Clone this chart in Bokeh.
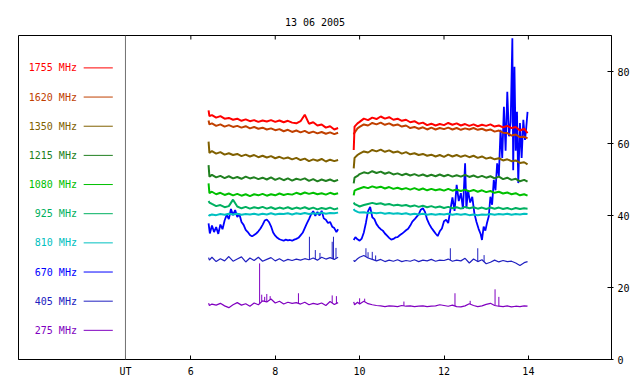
import math
import numpy as np
from bokeh.plotting import figure
from bokeh.models import Range1d, FixedTicker, Span, ColumnDataSource
from bokeh.core.properties import value
from bokeh.embed import file_html
from bokeh.resources import INLINE

# ---------------- chart content ----------------
title_text = "13 06 2005"
x_ticks = [6, 8, 10, 12, 14]
y_ticks = [0, 20, 40, 60, 80]
ut_hour = 4.45
ut_label = "UT"

freq_labels = ["1755 MHz", "1620 MHz", "1350 MHz", "1215 MHz", "1080 MHz",
               "925 MHz", "810 MHz", "670 MHz", "405 MHz", "275 MHz"]
freq_colors = ["#ff0000", "#c04000", "#806000", "#208020", "#00c000",
               "#00b060", "#00c0c0", "#0000ff", "#2020c0", "#8000c0"]

# time (UT hours) of the two observing segments
t1 = [6.42, 6.44, 6.5, 6.6, 6.7, 6.8, 6.9, 7.0, 7.1, 7.2, 7.3, 7.4, 7.5, 7.6, 7.7,
      7.8, 7.9, 8.0, 8.1, 8.2, 8.3, 8.4, 8.5, 8.6, 8.7, 8.8, 8.9, 9.0, 9.1, 9.2,
      9.3, 9.4, 9.49]
t2 = [9.86, 9.88, 9.95, 10.0, 10.1, 10.2, 10.3, 10.4, 10.5, 10.6, 10.7, 10.8, 10.9,
      11.0, 11.1, 11.2, 11.3, 11.4, 11.5, 11.6, 11.7, 11.8, 11.9, 12.0, 12.1, 12.2,
      12.3, 12.4, 12.5, 12.6, 12.7, 12.8, 12.9, 13.0, 13.1, 13.2, 13.3, 13.4, 13.5,
      13.6, 13.7, 13.8, 13.9, 13.98]

f1755_a = [69.2, 67.6, 67.9, 67.2, 67.6, 66.9, 67.1, 66.6, 66.9, 66.3, 66.7, 66.2,
           66.5, 66.0, 66.4, 66.1, 66.5, 66.0, 66.4, 65.9, 66.3, 65.8, 65.6, 66.2,
           68.0, 65.5, 65.9, 65.0, 65.3, 64.4, 64.8, 63.9, 64.3]
f1755_b = [58.2, 64.7, 65.6, 66.0, 66.9, 66.5, 67.2, 66.8, 67.5, 66.9, 67.3, 66.6,
           66.9, 66.3, 66.6, 65.9, 66.2, 65.5, 65.8, 65.1, 65.5, 65.0, 65.4, 65.1,
           65.7, 65.2, 65.6, 65.0, 65.4, 64.9, 65.3, 64.8, 65.2, 64.9, 65.3, 64.7,
           65.0, 64.5, 64.9, 64.3, 64.6, 63.6, 64.1, 62.9]

f1620_a = [66.4, 65.3, 65.6, 64.9, 65.3, 64.7, 65.1, 64.6, 64.9, 64.4, 64.8, 64.2,
           64.6, 64.1, 64.4, 63.9, 64.2, 63.7, 64.0, 63.4, 63.8, 63.2, 63.6, 63.1,
           63.5, 62.9, 63.3, 62.8, 63.2, 62.7, 63.1, 62.6, 63.0]
f1620_b = [62.5, 63.0, 64.2, 64.6, 65.3, 65.0, 65.7, 65.3, 65.8, 65.2, 65.6, 65.0,
           65.3, 64.7, 65.0, 64.3, 64.6, 64.1, 64.5, 63.9, 64.4, 63.9, 64.3, 64.0,
           64.4, 63.9, 64.3, 63.8, 64.2, 63.9, 64.3, 63.8, 64.1, 63.6, 63.9, 63.3,
           63.6, 63.0, 62.9, 62.2, 62.5, 61.8, 61.9, 61.4]

f1350_a = [60.5, 57.4, 57.9, 57.2, 57.6, 56.9, 57.3, 56.8, 57.1, 56.5, 56.9, 56.4,
           56.8, 56.2, 56.6, 56.1, 56.5, 55.9, 56.3, 55.8, 56.1, 55.6, 56.0, 55.4,
           55.8, 55.1, 55.6, 55.2, 55.7, 55.0, 55.5, 55.1, 55.4]
f1350_b = [53.1, 56.0, 56.8, 57.2, 57.8, 57.5, 58.2, 57.8, 58.3, 57.7, 58.1, 57.5,
           57.8, 57.2, 57.6, 57.0, 57.3, 56.8, 57.1, 56.6, 56.9, 56.4, 56.8, 56.3,
           56.9, 56.4, 56.8, 56.3, 56.7, 56.2, 56.6, 56.0, 56.4, 55.8, 56.1, 55.6,
           55.9, 55.3, 55.6, 55.1, 55.3, 54.6, 54.8, 54.2]

f1215_a = [54.0, 50.8, 51.3, 50.6, 51.0, 50.4, 50.9, 50.3, 50.7, 50.2, 50.8, 50.3,
           50.6, 50.1, 50.5, 50.0, 50.6, 49.9, 50.4, 49.8, 50.3, 49.7, 50.2, 49.9,
           50.3, 49.6, 50.1, 49.5, 50.0, 49.6, 50.0, 49.5, 49.9]
f1215_b = [48.9, 50.5, 51.0, 51.5, 52.0, 51.7, 52.3, 51.8, 52.2, 51.6, 52.0, 51.4,
           51.7, 51.2, 51.6, 51.1, 51.5, 51.0, 51.4, 50.9, 51.3, 50.9, 51.4, 50.9,
           51.3, 50.8, 51.2, 50.8, 51.3, 50.7, 51.1, 50.6, 51.0, 50.5, 50.9, 50.3,
           50.8, 50.1, 50.5, 49.9, 50.2, 49.5, 49.9, 49.4]

f1080_a = [48.9, 46.2, 46.6, 45.9, 46.3, 45.7, 46.1, 45.6, 46.0, 45.5, 45.9, 45.4,
           45.9, 45.6, 46.0, 45.5, 45.9, 45.6, 46.1, 45.7, 46.0, 45.8, 46.3, 45.9,
           46.4, 46.0, 46.3, 45.9, 46.2, 45.8, 46.3, 45.9, 46.2]
f1080_b = [45.6, 46.9, 47.3, 47.5, 47.9, 47.6, 48.1, 47.7, 48.0, 47.5, 47.9, 47.4,
           47.7, 47.3, 47.6, 47.2, 47.6, 47.1, 47.5, 47.0, 47.4, 47.0, 47.3, 46.9,
           47.4, 46.9, 47.2, 46.8, 47.2, 46.7, 47.1, 46.6, 47.0, 46.5, 46.8, 46.3,
           46.6, 46.1, 46.4, 45.9, 46.2, 45.6, 45.9, 45.5]

f925_a = [44.0, 43.6, 43.2, 42.6, 42.9, 42.3, 42.6, 44.4, 42.5, 42.0, 42.4, 41.9,
          42.3, 42.0, 42.4, 41.9, 42.3, 41.8, 42.2, 41.9, 42.3, 41.8, 42.2, 41.9,
          42.3, 41.8, 42.2, 41.7, 42.1, 41.8, 42.2, 41.7, 42.0]
f925_b = [43.6, 43.2, 42.8, 42.5, 42.9, 43.2, 43.5, 43.2, 43.4, 43.0, 43.2, 42.8,
          43.0, 42.7, 42.9, 42.5, 42.8, 42.4, 42.7, 42.3, 42.6, 42.2, 42.5, 42.1,
          42.4, 42.0, 42.3, 41.9, 42.4, 42.0, 42.3, 41.9, 42.2, 41.8, 42.2, 41.9,
          42.2, 41.8, 42.1, 41.7, 42.1, 41.8, 42.0, 41.9]

f810_a = [40.2, 40.0, 40.3, 40.1, 40.4, 40.2, 40.5, 40.3, 40.5, 40.2, 40.4, 40.3,
          40.5, 40.2, 40.5, 40.3, 40.6, 40.3, 40.5, 40.4, 40.6, 40.3, 40.6, 40.4,
          40.7, 40.4, 40.6, 40.5, 40.8, 40.5, 40.7, 40.6, 40.8]
f810_b = [41.8, 41.4, 41.0, 40.8, 40.9, 40.7, 40.8, 40.6, 40.8, 40.5, 40.7, 40.5,
          40.6, 40.4, 40.6, 40.3, 40.5, 40.3, 40.5, 40.2, 40.4, 40.2, 40.4, 40.3,
          40.5, 40.2, 40.4, 40.2, 40.4, 40.1, 40.3, 40.1, 40.3, 40.2, 40.4, 40.2,
          40.4, 40.3, 40.5, 40.2, 40.4, 40.3, 40.5, 40.4]

# 670 MHz has its own, denser time base
t670_a = [6.42, 6.45,
          6.50, 6.55, 6.60, 6.65, 6.70, 6.75, 6.80, 6.85, 6.90, 6.95,
          7.00, 7.05, 7.10, 7.15, 7.20, 7.25, 7.30, 7.35, 7.40, 7.45,
          7.50, 7.55, 7.60, 7.65, 7.70, 7.75, 7.80, 7.85, 7.90, 7.95,
          8.00, 8.05, 8.10, 8.15, 8.20, 8.25, 8.30, 8.35, 8.40, 8.45,
          8.50, 8.55, 8.60, 8.65, 8.70, 8.75, 8.80, 8.85, 8.90, 8.95,
          9.00, 9.05, 9.10, 9.15, 9.20, 9.25, 9.30, 9.35, 9.40, 9.45,
          9.49]
f670_a = [37.8, 35.0,
          37.2, 35.4, 36.8, 34.9, 37.5, 36.2, 38.6, 40.2, 39.0, 41.8,
          40.1, 41.5, 39.6, 40.4, 38.2, 37.4, 36.0, 35.4, 34.6, 34.2,
          34.6, 35.0, 35.6, 36.4, 37.4, 38.6, 38.9, 38.2, 37.0, 35.3,
          34.4, 33.8, 33.4, 33.2, 33.0, 33.3, 33.1, 33.2, 33.0, 33.3,
          33.5, 33.8, 34.5, 35.2, 36.5, 37.8, 39.0, 40.3, 41.2, 39.9,
          41.0, 40.0, 41.3, 39.2, 38.8, 37.9, 38.2, 36.9, 36.5, 35.4,
          36.2]
t670_b = [9.86, 9.90, 9.95, 10.00, 10.05, 10.10, 10.15, 10.20, 10.25, 10.30,
          10.35, 10.40, 10.45, 10.50, 10.55, 10.60, 10.65, 10.70, 10.75, 10.80,
          10.85, 10.90, 10.95, 11.00, 11.05, 11.10, 11.15, 11.20, 11.25, 11.30,
          11.35, 11.40, 11.45, 11.50, 11.55, 11.60, 11.65, 11.70, 11.75, 11.80,
          11.85, 11.90, 11.95, 12.00, 12.05, 12.10, 12.15, 12.20, 12.25, 12.30,
          12.35, 12.40, 12.45, 12.50, 12.53, 12.57, 12.62, 12.67, 12.72, 12.77,
          12.82, 12.87, 12.90, 12.94, 12.98, 13.02, 13.06, 13.10, 13.14, 13.18,
          13.22, 13.26, 13.30, 13.34, 13.38, 13.42, 13.46, 13.50, 13.54, 13.58,
          13.62, 13.64, 13.67, 13.70, 13.73, 13.76, 13.80, 13.84, 13.88, 13.92,
          13.95, 13.98]
f670_b = [33.2, 34.0, 33.4, 33.0, 33.6, 35.3, 38.0, 41.2, 42.4, 39.5,
          39.0, 37.6, 36.8, 36.2, 35.8, 35.0, 34.4, 33.8, 33.3, 33.5,
          33.9, 34.0, 34.5, 34.9, 35.4, 35.9, 36.3, 37.2, 38.3, 38.9,
          39.6, 40.3, 41.6, 42.0, 41.0, 38.9, 37.6, 36.6, 35.8, 35.0,
          34.3, 35.6, 36.4, 38.4, 38.8, 37.9, 41.5, 45.0, 41.3, 48.5,
          44.0, 46.2, 41.8, 54.5, 42.0, 47.0, 43.6, 45.2, 40.6, 38.2,
          36.3, 34.8, 33.2, 36.9, 35.8, 38.0, 39.7, 45.2, 43.0, 49.9,
          47.0, 54.5, 51.0, 63.8, 56.0, 70.2, 58.0, 74.4, 62.0, 66.0,
          89.2, 52.6, 81.3, 58.0, 68.8, 49.0, 65.7, 56.0, 66.6, 61.0,
          64.5, 68.8]

f405_a = [28.3, 27.6, 28.4, 27.2, 28.0, 27.4, 28.6, 27.3, 27.9, 28.5, 27.1, 28.2,
          27.5, 28.4, 27.3, 27.8, 28.3, 27.4, 28.0, 27.3, 27.8, 27.5, 27.9, 27.6,
          28.0, 27.7, 28.2, 27.6, 28.4, 27.9, 28.3, 27.8, 28.4]
f405_b = [27.6, 27.2, 28.0, 28.4, 28.9, 28.2, 27.8, 27.4, 27.8, 27.2, 27.6, 27.3,
          27.7, 27.2, 27.5, 27.3, 27.7, 27.2, 27.6, 27.4, 27.8, 27.3, 27.6, 27.5,
          27.9, 27.3, 27.6, 27.4, 28.1, 26.8, 27.9, 27.2, 27.7, 26.6, 27.0, 27.6,
          27.1, 27.5, 27.2, 27.3, 26.8, 26.1, 26.9, 27.2]
spike405_t = [8.81, 8.95, 9.06, 9.35, 9.38, 9.44, 10.15, 10.2, 10.3, 10.38, 12.15, 12.8, 12.95]
spike405_v = [34.1, 30.4, 29.6, 32.7, 34.1, 31.0, 30.9, 29.8, 29.9, 28.9, 30.9, 30.9, 29.0]

f275_a = [15.6, 15.0, 15.4, 15.1, 15.6, 14.9, 14.4, 15.2, 15.8, 15.1, 15.5, 14.8,
          15.7, 15.2, 16.3, 16.0, 16.8, 15.7, 16.2, 15.4, 15.9, 15.6, 15.8, 15.4,
          15.9, 15.2, 15.6, 15.3, 15.7, 15.0, 16.1, 15.3, 15.8]
f275_b = [16.0, 15.2, 15.9, 15.4, 16.2, 15.5, 15.2, 15.0, 14.9, 14.7, 14.9, 14.8,
          14.7, 15.0, 14.8, 14.9, 14.7, 14.8, 14.9, 14.7, 14.8, 14.9, 15.2, 15.0,
          14.8, 15.1, 14.7, 14.6, 14.9, 15.5, 15.0, 14.7, 14.9, 15.3, 15.6, 15.0,
          14.8, 14.7, 14.9, 14.6, 14.8, 14.7, 14.9, 14.8]
spike275_t = [7.63, 7.68, 7.75, 7.8, 7.88, 8.55, 9.35, 9.45, 10.0, 10.12, 11.05, 12.26, 12.62, 13.21, 13.3]
spike275_v = [26.7, 18.0, 17.4, 18.2, 17.6, 18.4, 17.8, 17.6, 17.0, 16.9, 16.1, 18.4, 16.3, 19.5, 17.4]

# ---------------- figure ----------------
FONT = "DejaVu Sans Mono"
X_START, X_END = 1.915, 15.97
Y_START, Y_END = 0, 90
FRAME_H = 324  # px between top and bottom of the frame

p = figure(width=636, height=381, x_range=Range1d(X_START, X_END), y_range=Range1d(Y_START, Y_END),
           output_backend="svg", toolbar_location=None, y_axis_location="right",
           min_border_left=18, min_border_right=25, min_border_top=35, min_border_bottom=22,
           title=title_text)
p.title.align = "center"
p.title.vertical_align = "top"
p.title.text_font = FONT
p.title.text_font_size = "10px"
p.title.text_font_style = "normal"
p.title.text_color = "black"
p.title.standoff = 12
p.outline_line_color = "black"
p.outline_line_alpha = 1.0
p.outline_line_width = 1
p.xgrid.visible = False
p.ygrid.visible = False
p.background_fill_color = "white"
p.border_fill_color = "white"

xa = p.xaxis[0]
xa.ticker = FixedTicker(ticks=[ut_hour] + x_ticks)
xa.major_label_overrides = {ut_hour: ut_label}
xa.major_tick_in = 4
xa.major_tick_out = 0
xa.minor_tick_line_color = None
xa.axis_line_color = "black"
xa.major_label_standoff = 6
xa.major_label_text_font = FONT
xa.major_label_text_font_size = "10px"
xa.major_label_text_color = "black"

ya = p.yaxis[0]
ya.ticker = FixedTicker(ticks=y_ticks)
ya.major_tick_in = 4
ya.major_tick_out = 2
ya.minor_tick_line_color = None
ya.axis_line_color = "black"
ya.major_label_standoff = 4
ya.major_label_text_font = FONT
ya.major_label_text_font_size = "10px"
ya.major_label_text_color = "black"

# short inward ticks along the top edge of the frame
tick_len = 4 * (Y_END - Y_START) / FRAME_H
p.segment(x0=x_ticks, y0=[Y_END] * len(x_ticks), x1=x_ticks,
          y1=[Y_END - tick_len] * len(x_ticks), line_color="black", line_width=1)

p.add_layout(Span(location=ut_hour, dimension="height", line_color="#707070", line_width=1))

nan = float("nan")

def joined(ta, va, tb, vb):
    return list(ta) + [nan] + list(tb), list(va) + [nan] + list(vb)

series = [
    (t1, f275_a, t2, f275_b, 9, 1.2),
    (t1, f405_a, t2, f405_b, 8, 1.2),
    (t670_a, f670_a, t670_b, f670_b, 7, 1.8),
    (t1, f810_a, t2, f810_b, 6, 2),
    (t1, f925_a, t2, f925_b, 5, 2),
    (t1, f1080_a, t2, f1080_b, 4, 2),
    (t1, f1215_a, t2, f1215_b, 3, 2),
    (t1, f1350_a, t2, f1350_b, 2, 2),
    (t1, f1620_a, t2, f1620_b, 1, 2),
    (t1, f1755_a, t2, f1755_b, 0, 2),
]
for ta, va, tb, vb, ci, lw in series:
    xs, ys = joined(ta, va, tb, vb)
    p.line(xs, ys, line_color=freq_colors[ci], line_width=lw)

def spikes(st, sv, ta, va, tb, vb, ci):
    base_t = list(ta) + list(tb)
    base_v = list(va) + list(vb)
    y0 = np.interp(st, base_t, base_v)
    p.segment(x0=st, y0=y0, x1=st, y1=sv, line_color=freq_colors[ci], line_width=1)

spikes(spike275_t, spike275_v, t1, f275_a, t2, f275_b, 9)
spikes(spike405_t, spike405_v, t1, f405_a, t2, f405_b, 8)

# legend (label left of its line), inside the left panel
legend_step = 8.1
legend_text_x = 3.30
legend_line_x0 = 3.46
legend_line_x1 = 4.15
n = len(freq_labels)
leg = ColumnDataSource(dict(
    y=[legend_step * (n - i) for i in range(n)],
    label=freq_labels, color=freq_colors,
    x=[legend_text_x] * n, x0=[legend_line_x0] * n, x1=[legend_line_x1] * n))
p.text(x="x", y="y", text="label", text_color="color", source=leg,
       text_align="right", text_baseline="middle",
       text_font=value(FONT), text_font_size="10px")
p.segment(x0="x0", y0="y", x1="x1", y1="y", line_color="color", line_width=1, source=leg)

open("out.html", "w").write(file_html(p, INLINE))
